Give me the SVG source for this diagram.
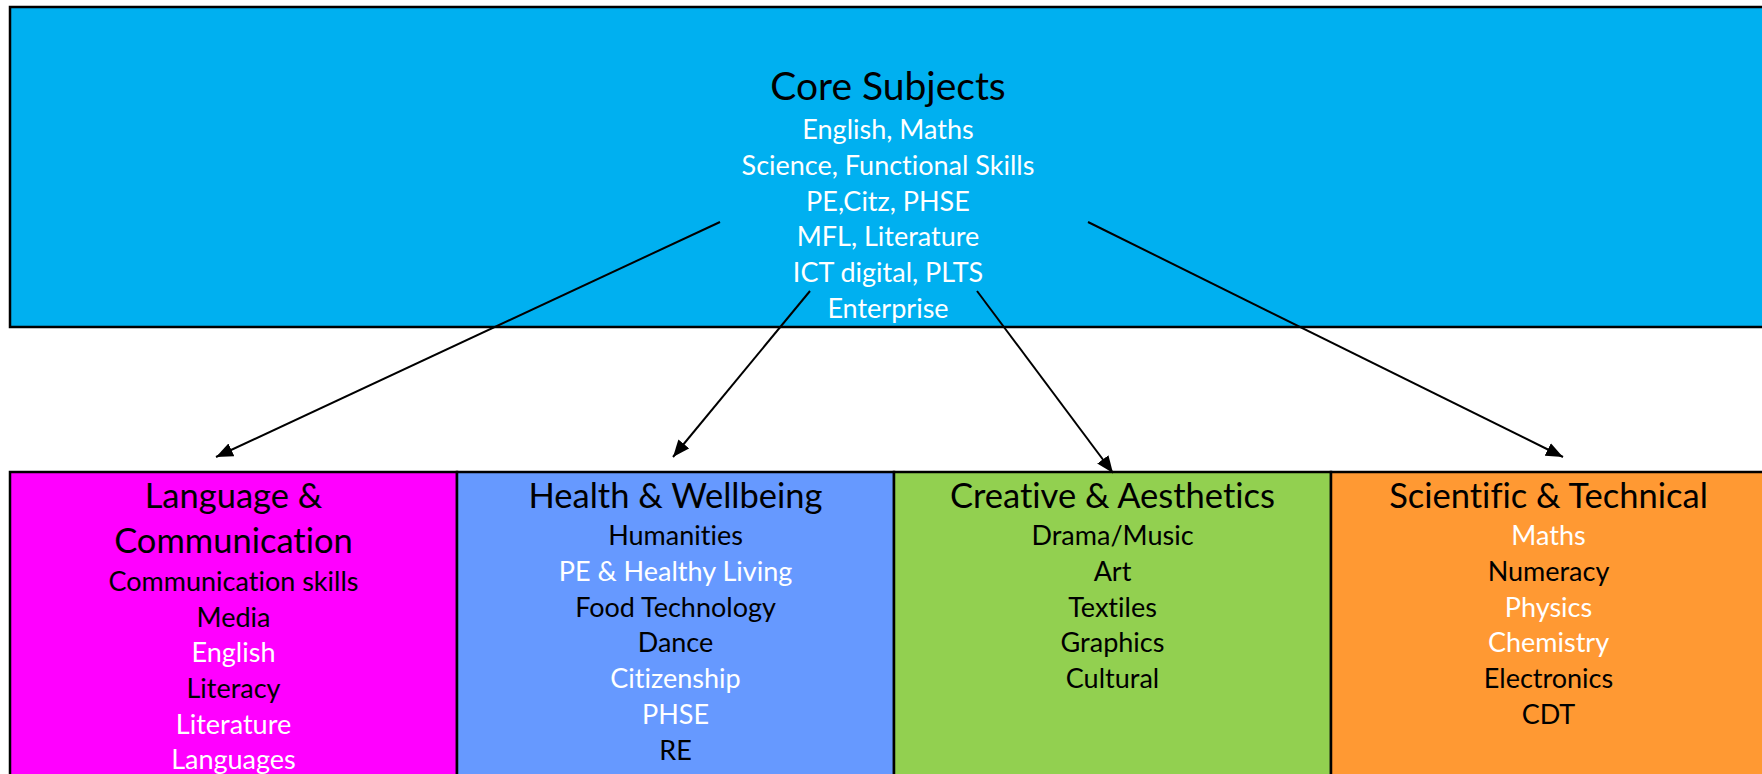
<svg xmlns="http://www.w3.org/2000/svg" width="1762" height="774" viewBox="0 0 1762 774">
<defs>
<marker id="ah" markerUnits="userSpaceOnUse" markerWidth="18" markerHeight="14" refX="17" refY="7" orient="auto">
<path d="M0,0 L17,7 L0,14 z" fill="#000"/>
</marker>
<style>
.box{stroke:#000;stroke-width:2.5}
text{font-family:Lato,"Open Sans","Liberation Sans",sans-serif;text-anchor:middle;font-variant-ligatures:none;font-feature-settings:"liga" 0}
.h{font-size:39px;fill:#000}
.hd{font-size:34.5px;fill:#000}
.t{font-size:27px}
.w{fill:#fff}
.b{fill:#000}
.c{stroke:#000;stroke-width:2;fill:none;marker-end:url(#ah)}
</style>
</defs>
<rect width="1762" height="774" fill="#fff"/>
<g id="core">
<rect class="box" x="10" y="7" width="1760" height="320" fill="#00B0F0"/>
<text class="h" x="888" y="100">Core Subjects</text>
<text class="t w" x="888" y="139">English, Maths</text>
<text class="t w" x="888" y="175">Science, Functional Skills</text>
<text class="t w" x="888" y="211">PE,Citz, PHSE</text>
<text class="t w" x="888" y="246">MFL, Literature</text>
<text class="t w" x="888" y="282">ICT digital, PLTS</text>
<text class="t w" x="888" y="318">Enterprise</text>
</g>
<g id="language">
<rect class="box" x="10" y="472" width="447" height="340" fill="#FF00FF"/>
<text class="hd" x="233.5" y="508">Language &amp;</text>
<text class="hd" x="233.5" y="553">Communication</text>
<text class="t b" x="233.5" y="591">Communication skills</text>
<text class="t b" x="233.5" y="627">Media</text>
<text class="t w" x="233.5" y="662">English</text>
<text class="t b" x="233.5" y="698">Literacy</text>
<text class="t w" x="233.5" y="734">Literature</text>
<text class="t w" x="233.5" y="769">Languages</text>
</g>
<g id="health">
<rect class="box" x="457" y="472" width="437" height="340" fill="#6699FF"/>
<text class="hd" x="675.5" y="508">Health &amp; Wellbeing</text>
<text class="t b" x="675.5" y="545">Humanities</text>
<text class="t w" x="675.5" y="581">PE &amp; Healthy Living</text>
<text class="t b" x="675.5" y="617">Food Technology</text>
<text class="t b" x="675.5" y="652">Dance</text>
<text class="t w" x="675.5" y="688">Citizenship</text>
<text class="t w" x="675.5" y="724">PHSE</text>
<text class="t b" x="675.5" y="760">RE</text>
</g>
<g id="creative">
<rect class="box" x="894" y="472" width="437" height="340" fill="#92D050"/>
<text class="hd" x="1112.5" y="508">Creative &amp; Aesthetics</text>
<text class="t b" x="1112.5" y="545">Drama/Music</text>
<text class="t b" x="1112.5" y="581">Art</text>
<text class="t b" x="1112.5" y="617">Textiles</text>
<text class="t b" x="1112.5" y="652">Graphics</text>
<text class="t b" x="1112.5" y="688">Cultural</text>
</g>
<g id="scientific">
<rect class="box" x="1331" y="472" width="440" height="340" fill="#FF9933"/>
<text class="hd" x="1548.5" y="508">Scientific &amp; Technical</text>
<text class="t w" x="1548.5" y="545">Maths</text>
<text class="t b" x="1548.5" y="581">Numeracy</text>
<text class="t w" x="1548.5" y="617">Physics</text>
<text class="t w" x="1548.5" y="652">Chemistry</text>
<text class="t b" x="1548.5" y="688">Electronics</text>
<text class="t b" x="1548.5" y="724">CDT</text>
</g>
<g id="connectors">
<line class="c" x1="720" y1="222" x2="216" y2="457"/>
<line class="c" x1="810" y1="291" x2="673" y2="457"/>
<line class="c" x1="977" y1="291" x2="1113" y2="473"/>
<line class="c" x1="1088" y1="222" x2="1563" y2="457"/>
</g>
</svg>
